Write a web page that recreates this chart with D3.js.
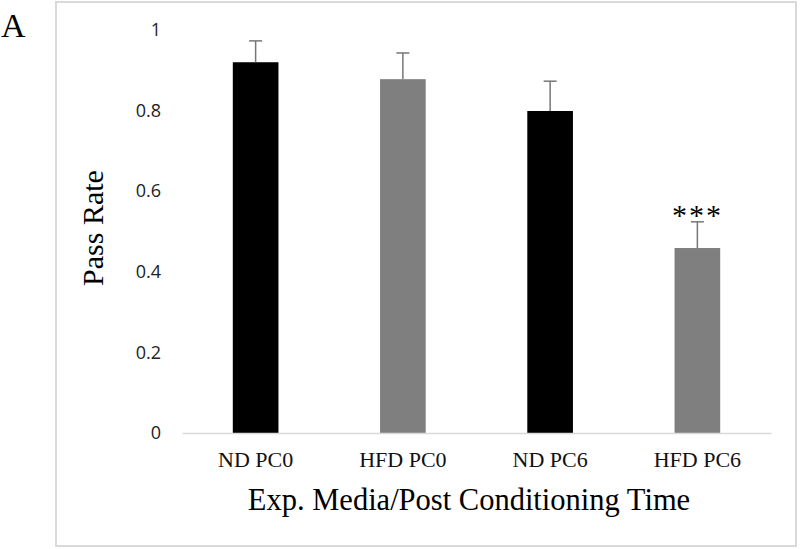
<!DOCTYPE html>
<html lang="en">
<head>
<script src="https://d3js.org/d3.v7.min.js"></script>
<style>
  body { margin: 0; background: #fff; }
</style>
</head>
<body>
<svg id="chart" width="800" height="549"></svg>
<script>
// data
const groups = ["ND PC0", "HFD PC0", "ND PC6", "HFD PC6"];
const passRate = [0.92, 0.878, 0.799, 0.459];
const errUp = [0.053, 0.065, 0.074, 0.065];
const barColors = ["#000000", "#7f7f7f", "#000000", "#7f7f7f"];
const marks = ["", "", "", "***"];
const yTicks = [0, 0.2, 0.4, 0.6, 0.8, 1];

const svg = d3.select("#chart");

// outer frame
svg.append("rect")
    .attr("x", 56).attr("y", 2)
    .attr("width", 740).attr("height", 544)
    .attr("fill", "none")
    .attr("stroke", "#d9d9d9")
    .attr("stroke-width", 2);

svg.append("text")
    .attr("x", 1).attr("y", 37)
    .attr("font-family", "Liberation Serif")
    .attr("font-size", 34)
    .text("A");

const x = d3.scaleBand()
    .domain(groups)
    .range([182, 771])
    .paddingInner(0.69)
    .paddingOuter(0.345);

const y = d3.scaleLinear()
    .domain([0, 1])
    .range([433, 30]);

// y tick labels (no axis line)
const yAxis = svg.append("g")
    .attr("transform", "translate(170,0)")
    .call(d3.axisLeft(y).tickValues(yTicks).tickSize(0).tickPadding(9)
        .tickFormat(d => d3.format("")(d)));
yAxis.select(".domain").remove();
yAxis.selectAll("text")
    .attr("font-family", "Open Sans, sans-serif")
    .attr("font-size", 18)
    .attr("fill", "#222");

// bars
svg.selectAll(".bar")
    .data(groups)
    .join("rect")
    .attr("class", "bar")
    .attr("x", d => x(d))
    .attr("width", x.bandwidth())
    .attr("y", (d, i) => y(passRate[i]))
    .attr("height", (d, i) => y(0) - y(passRate[i]))
    .attr("fill", (d, i) => barColors[i]);

// error bars
const cx = d => x(d) + x.bandwidth() / 2;
const err = svg.append("g")
    .attr("stroke", "#767676")
    .attr("stroke-width", 1.5);
err.selectAll(".stem")
    .data(groups)
    .join("line")
    .attr("x1", cx).attr("x2", cx)
    .attr("y1", (d, i) => y(passRate[i]))
    .attr("y2", (d, i) => y(passRate[i] + errUp[i]));
err.selectAll(".cap")
    .data(groups)
    .join("line")
    .attr("x1", d => cx(d) - 6.5).attr("x2", d => cx(d) + 6.5)
    .attr("y1", (d, i) => y(passRate[i] + errUp[i]))
    .attr("y2", (d, i) => y(passRate[i] + errUp[i]));

// significance marks
svg.selectAll(".sig")
    .data(groups)
    .join("text")
    .attr("x", cx)
    .attr("y", (d, i) => y(passRate[i] + errUp[i]) + 3)
    .attr("text-anchor", "middle")
    .attr("font-family", "Liberation Serif")
    .attr("font-size", 30)
    .attr("letter-spacing", 2)
    .text((d, i) => marks[i]);

// x axis
const xAxis = svg.append("g")
    .attr("transform", "translate(0,433)")
    .call(d3.axisBottom(x).tickSize(0).tickPadding(18));
xAxis.select(".domain")
    .attr("stroke", "#d9d9d9")
    .attr("stroke-width", 1.5);
xAxis.selectAll("text")
    .attr("font-family", "Liberation Serif")
    .attr("font-size", 22)
    .attr("fill", "#111");

// axis titles
svg.append("text")
    .attr("x", 469).attr("y", 510)
    .attr("text-anchor", "middle")
    .attr("font-family", "Liberation Serif")
    .attr("font-size", 30.5)
    .text("Exp. Media/Post Conditioning Time");

svg.append("text")
    .attr("transform", "translate(103,228) rotate(-90)")
    .attr("text-anchor", "middle")
    .attr("font-family", "Liberation Serif")
    .attr("font-size", 30)
    .text("Pass Rate");
</script>
</body>
</html>
